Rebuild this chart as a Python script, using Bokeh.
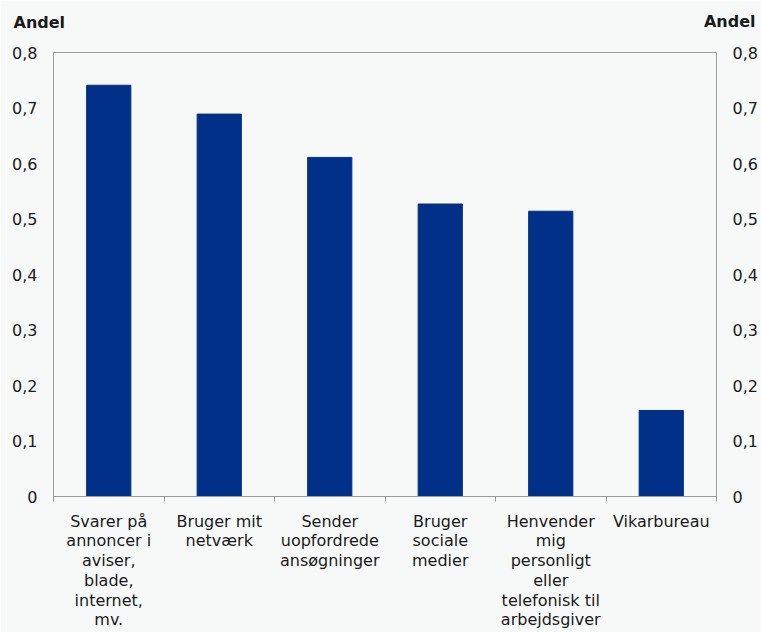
from bokeh.plotting import figure
from bokeh.models import Range1d, FixedTicker, LinearAxis, Label, ColumnDataSource
from bokeh.embed import file_html
from bokeh.resources import INLINE

categories = [
    "Svarer på\nannoncer i\naviser,\nblade,\ninternet,\nmv.",
    "Bruger mit\nnetværk",
    "Sender\nuopfordrede\nansøgninger",
    "Bruger\nsociale\nmedier",
    "Henvender\nmig\npersonligt\neller\ntelefonisk til\narbejdsgiver",
    "Vikarbureau",
]
values = [0.741, 0.689, 0.611, 0.527, 0.514, 0.155]
y_ticks = [0, 0.1, 0.2, 0.3, 0.4, 0.5, 0.6, 0.7, 0.8]
y_tick_labels = ["0", "0,1", "0,2", "0,3", "0,4", "0,5", "0,6", "0,7", "0,8"]
axis_title = "Andel"

FONT = "DejaVu Sans"
BG = "#f7f9f9"
TXT = "#1a1a1a"
BAR = "#003087"
GRAY = "#9a9a9a"

n = len(categories)
xs = [i + 0.5 for i in range(n)]
src = ColumnDataSource(dict(x=xs, top=values))

p = figure(width=761, height=632, output_backend="svg", toolbar_location=None,
           x_range=Range1d(0, n), y_range=Range1d(0, 0.8),
           min_border_left=53, min_border_right=45, min_border_top=52,
           min_border_bottom=135, y_axis_location=None)
p.background_fill_color = BG
p.border_fill_color = BG
p.outline_line_color = GRAY
p.grid.visible = False

p.vbar(x="x", top="top", width=0.4, bottom=0, source=src,
       fill_color=BAR, line_color=BAR)

# x axis
xa = p.xaxis[0]
xa.ticker = FixedTicker(ticks=xs, minor_ticks=list(range(n + 1)))
xa.major_label_overrides = {x: c for x, c in zip(xs, categories)}
xa.major_tick_in = 0
xa.major_tick_out = 0
xa.minor_tick_in = 0
xa.minor_tick_out = 5
xa.minor_tick_line_color = GRAY
xa.axis_line_color = GRAY
xa.major_label_text_font = FONT
xa.major_label_text_font_size = "16px"
xa.major_label_text_color = TXT
xa.major_label_text_line_height = 1.04
xa.major_label_standoff = 10

for loc in ("left", "right"):
    ya = LinearAxis(ticker=FixedTicker(ticks=y_ticks))
    ya.major_label_overrides = {t: l for t, l in zip(y_ticks, y_tick_labels)}
    ya.major_tick_in = 0
    ya.major_tick_out = 0
    ya.minor_tick_line_color = None
    ya.axis_line_color = None
    ya.major_label_text_font = FONT
    ya.major_label_text_font_size = "16px"
    ya.major_label_text_color = TXT
    ya.major_label_standoff = 16
    p.add_layout(ya, loc)

p.add_layout(Label(x=-40, y=30, x_units="screen", y_units="screen", text=axis_title,
                   text_font=FONT, text_font_size="16px", text_font_style="bold",
                   text_color=TXT, text_baseline="middle", text_align="left"), "above")
p.add_layout(Label(x=702, y=12, x_units="screen", y_units="screen", text=axis_title,
                   text_font=FONT, text_font_size="16px", text_font_style="bold",
                   text_color=TXT, text_baseline="middle", text_align="right"), "above")

open("out.html", "w").write(file_html(p, INLINE))
